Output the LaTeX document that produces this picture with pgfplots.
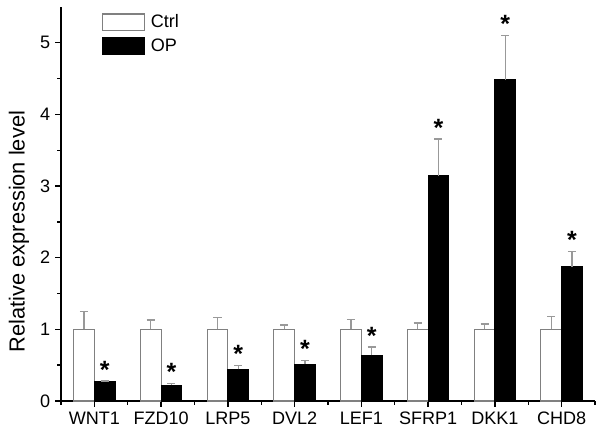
\documentclass[border=0pt]{standalone}
\usepackage{pgfplots}
\pgfplotsset{compat=1.18}
\usepackage{fontspec}
\setmainfont{Liberation Sans}

\definecolor{errgray}{gray}{0.6}
\definecolor{edgegray}{gray}{0.5}
\tikzset{star/.style={anchor=base, inner sep=0pt, yshift=2pt, font=\fontsize{18}{20}\selectfont\bfseries}}

\begin{document}
\begin{tikzpicture}
\begin{axis}[
  name=ax,
  scale only axis,
  width=384.5pt, height=283.7pt,
  xmin=-0.5, xmax=7.5,
  ymin=0, ymax=5.5,
  axis x line*=bottom, axis y line*=left,
  axis line style={line width=1.3pt},
  every tick/.style={black, line width=1pt},
  tick align=outside,
  xtick={0,...,7},
  xticklabels={WNT1,FZD10,LRP5,DVL2,LEF1,SFRP1,DKK1,CHD8},
  minor xtick={-0.5,0.5,...,7.5},
  ytick={0,...,5},
  minor ytick={0.5,1.5,...,4.5},
  major tick length=4.2pt, minor tick length=2.6pt,
  /pgf/number format/assume math mode=true,
  tick label style={font=\fontsize{13}{15}\selectfont},
  ylabel={Relative expression level},
  ylabel style={font=\fontsize{15.7}{18}\selectfont, at={(ticklabel cs:0.43)}},
  ylabel shift=1pt,
  ybar, bar width=0.31,
  clip=false,
  legend style={at={(rel axis cs:0.076,0.985)}, anchor=north west, draw=none, fill=none,
    inner sep=0pt, font=\fontsize{13}{15}\selectfont, row sep=4.5pt,
    cells={anchor=west}, nodes={inner sep=0pt}, /tikz/every odd column/.style={column sep=4.3pt}},
  error bars/error bar style={errgray, line width=0.9pt},
  error bars/error mark options={errgray, rotate=90, mark size=2.9pt, line width=0.9pt},
]
\addplot[fill=white, draw=edgegray, line width=0.8pt, bar shift=-0.155,
  legend image code/.code={\draw[fill=white, draw=edgegray, line width=1pt] (0pt,-6pt) rectangle (30pt,6pt);},
  error bars/.cd, y dir=plus, y explicit]
  coordinates {
  (0,1) +- (0,0.25)
  (1,1) +- (0,0.13)
  (2,1) +- (0,0.17)
  (3,1) +- (0,0.06)
  (4,1) +- (0,0.135)
  (5,1) +- (0,0.09)
  (6,1) +- (0,0.075)
  (7,1) +- (0,0.18)
  };
\addlegendentry{Ctrl}
\addplot[fill=black, draw=black, line width=0.8pt, bar shift=0.155,
  legend image code/.code={\draw[fill=black, draw=black, line width=1pt] (0pt,-6pt) rectangle (30pt,6pt);},
  error bars/.cd, y dir=plus, y explicit]
  coordinates {
  (0,0.265) +- (0,0.015)
  (1,0.22) +- (0,0.025)
  (2,0.44) +- (0,0.06)
  (3,0.515) +- (0,0.055)
  (4,0.64) +- (0,0.115)
  (5,3.14) +- (0,0.515)
  (6,4.48) +- (0,0.62)
  (7,1.87) +- (0,0.215)
  };
\addlegendentry{OP}
% significance marks
\node[star] at (axis cs:0.155,0.28) {*};
\node[star] at (axis cs:1.155,0.245) {*};
\node[star] at (axis cs:2.155,0.50) {*};
\node[star] at (axis cs:3.155,0.57) {*};
\node[star] at (axis cs:4.155,0.755) {*};
\node[star] at (axis cs:5.155,3.655) {*};
\node[star] at (axis cs:6.155,5.10) {*};
\node[star] at (axis cs:7.155,2.085) {*};
\end{axis}
\path[use as bounding box] (ax.south west) ++(-43.9pt,-23.8pt) rectangle ([xshift=3.6pt,yshift=5pt]ax.north east);
\end{tikzpicture}
\end{document}
